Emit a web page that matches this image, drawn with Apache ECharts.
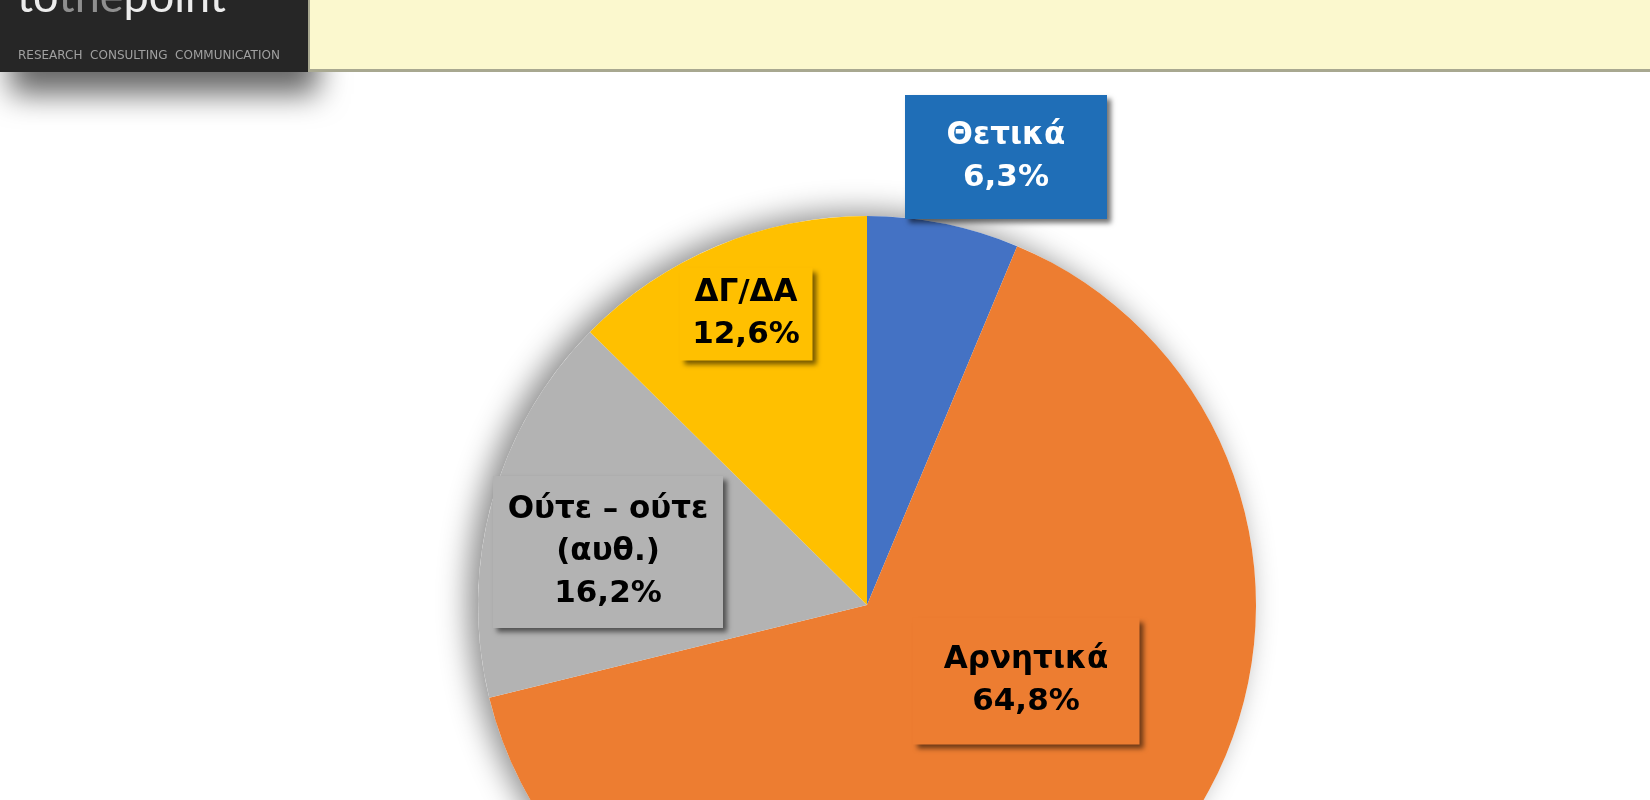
<!DOCTYPE html>
<html><head><meta charset="utf-8">
<script src="https://cdn.jsdelivr.net/npm/echarts@6/dist/echarts.min.js"></script>
<style>html,body{margin:0;padding:0;background:#fff;overflow:hidden}#c{width:1650px;height:800px}</style>
</head><body><div id="c"></div>
<script>
// ---- data ----
const categories = ['Θετικά', 'Αρνητικά', 'Ούτε – ούτε\n(αυθ.)', 'ΔΓ/ΔΑ'];
const values = [6.3, 64.8, 16.2, 12.6];

// ---- styles / layout ----
const sliceColors = ['#4472C4', '#ED7D31', '#B3B3B3', '#FFC000'];
const labelBg = ['#1F6EB7', '#ED7D31', '#B3B3B3', '#FFC000'];
const labelColor = ['#FFFFFF', '#000000', '#000000', '#000000'];
const labelBoxes = [
  { cx: 1006, cy: 157, w: 202, h: 124 },
  { cx: 1026, cy: 681, w: 227, h: 127 },
  { cx: 608, cy: 552, w: 230, h: 152 },
  { cx: 746, cy: 314, w: 133, h: 93 }
];
const LH = 42;
const PIE_CENTER = [867, 605];
const PIE_R = 389;

const fmt = v => v.toFixed(1).replace('.', ',') + '%';

const chart = echarts.init(document.getElementById('c'), null, { renderer: 'canvas' });

const dataItems = categories.map((name, i) => {
  const lines = name.split('\n').length + 1;
  const b = labelBoxes[i];
  const padV = Math.max(0, (b.h - lines * LH) / 2);
  return {
    name: name,
    value: values[i],
    itemStyle: { color: sliceColors[i] },
    label: {
      color: labelColor[i],
      backgroundColor: labelBg[i],
      width: b.w,
      padding: [padV, 0, padV, 0]
    }
  };
});

chart.setOption({
  backgroundColor: '#ffffff',
  animation: false,
  graphic: [
    // logo shadow + box
    { type: 'rect', z: 1, shape: { x: 0, y: -10, width: 308, height: 82 },
      style: { fill: '#262626', shadowBlur: 30, shadowOffsetY: 22, shadowOffsetX: 10, shadowColor: 'rgba(0,0,0,0.6)' } },
    { type: 'text', z: 3, left: 17, top: -25,
      style: { rich: { w: { fill: '#ececec', fontSize: 45, fontFamily: 'Lato', fontWeight: 400 },
                       g: { fill: '#8f8f8f', fontSize: 45, fontFamily: 'Lato', fontWeight: 400 } },
               text: '{w|to}{g|the}{w|point}' } },
    { type: 'text', z: 3, left: 18, top: 50,
      style: { text: 'RESEARCH  CONSULTING  COMMUNICATION', fill: '#a0a0a0', font: '12px "DejaVu Sans"' } },
    // header bar
    { type: 'rect', z: 2, shape: { x: 308, y: 0, width: 1342, height: 72 },
      style: { fill: '#A8A890' } },
    { type: 'rect', z: 2, shape: { x: 310, y: 0, width: 1340, height: 69 },
      style: { fill: '#FBF8CE' } }
  ],
  series: [
    {
      type: 'pie',
      silent: true,
      z: 1,
      center: PIE_CENTER,
      radius: PIE_R,
      startAngle: 90,
      label: { show: false },
      labelLine: { show: false },
      itemStyle: { color: '#ffffff', shadowBlur: 30, shadowOffsetX: -10, shadowOffsetY: -4, shadowColor: 'rgba(0,0,0,0.45)' },
      data: [{ name: 'total', value: values.reduce((a, b) => a + b, 0) }]
    },
    {
      type: 'pie',
      z: 2,
      center: PIE_CENTER,
      radius: PIE_R,
      startAngle: 90,
      clockwise: true,
      avoidLabelOverlap: false,
      itemStyle: { borderWidth: 0 },
      emphasis: { disabled: true },
      labelLine: { show: false },
      label: {
        show: true,
        position: 'inside',
        formatter: p => p.name + '\n' + fmt(p.value),
        fontFamily: '"DejaVu Sans", "Noto Sans", sans-serif',
        fontWeight: 'bold',
        fontSize: 31,
        lineHeight: LH,
        align: 'center',
        shadowColor: 'rgba(0,0,0,0.55)',
        shadowBlur: 5,
        shadowOffsetX: 4,
        shadowOffsetY: 4
      },
      labelLayout: params => {
        const b = labelBoxes[params.dataIndex];
        return { x: b.cx, y: b.cy, align: 'center', verticalAlign: 'middle', hideOverlap: false, moveOverlap: null };
      },
      data: dataItems
    }
  ]
});
</script>
</body></html>
